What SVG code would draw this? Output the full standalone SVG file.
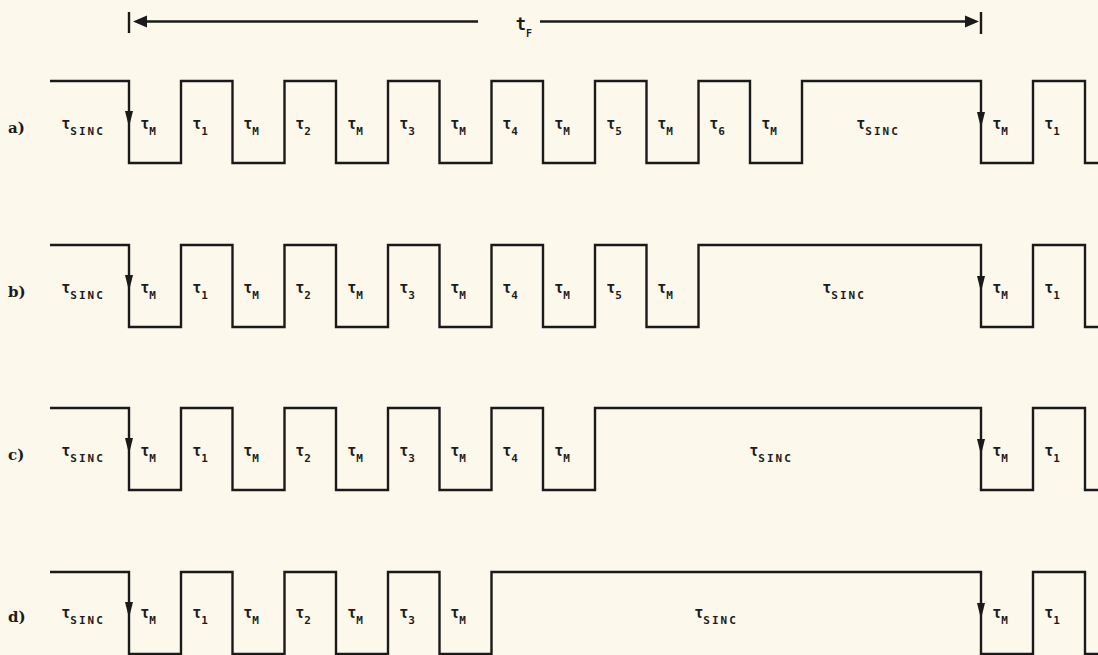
<svg xmlns="http://www.w3.org/2000/svg" width="1098" height="655" viewBox="0 0 1098 655">
<defs>
<style>
.sig{fill:none;stroke:#1a1a1a;stroke-width:2.4;stroke-linejoin:miter}
.ah{fill:#1a1a1a}
.lbl{font-family:"DejaVu Sans Mono",monospace;font-weight:bold;font-size:15px;fill:#1c1c1c;text-anchor:middle}
.sub{font-size:11px}
.subw{font-size:11px;letter-spacing:2px}
.row{font-family:"DejaVu Serif","Liberation Serif",serif;font-weight:bold;font-size:15px;fill:#1c1c1c}
.dim{stroke:#1a1a1a;stroke-width:2.4;fill:none}
</style>
<polygon id="dn" class="ah" points="-4,0 4,0 0,16"/>
</defs>
<rect x="0" y="0" width="1098" height="655" fill="#fcf9ec"/>

<g id="dimension">
<line class="dim" x1="129" y1="12" x2="129" y2="33"/>
<line class="dim" x1="140" y1="21.5" x2="478" y2="21.5"/>
<polygon class="ah" points="133,21.5 147,15.5 147,27.5"/>
<line class="dim" x1="540" y1="21.5" x2="968" y2="21.5"/>
<polygon class="ah" points="979,21.5 965,15.5 965,27.5"/>
<line class="dim" x1="981" y1="12" x2="981" y2="34"/>
<text class="lbl" x="524" y="30" style="font-size:17px">t<tspan dy="7" style="font-size:10px">F</tspan></text>
</g>

<g id="connectors">
<path id="wave-a" class="sig" transform="translate(0,81)" d="M50,0 H129 V82 H181 V0 H232.5 V82 H284.5 V0 H336 V82 H388 V0 H439.5 V82 H491.5 V0 H543 V82 H595 V0 H646.5 V82 H698.5 V0 H750 V82 H802 V0 H981 V82 H1033 V0 H1085 V82 H1100"/>
<path id="wave-b" class="sig" transform="translate(0,245)" d="M50,0 H129 V82 H181 V0 H232.5 V82 H284.5 V0 H336 V82 H388 V0 H439.5 V82 H491.5 V0 H543 V82 H595 V0 H646.5 V82 H698.5 V0 H981 V82 H1033 V0 H1085 V82 H1100"/>
<path id="wave-c" class="sig" transform="translate(0,408)" d="M50,0 H129 V82 H181 V0 H232.5 V82 H284.5 V0 H336 V82 H388 V0 H439.5 V82 H491.5 V0 H543 V82 H595 V0 H981 V82 H1033 V0 H1085 V82 H1100"/>
<path id="wave-d" class="sig" transform="translate(0,572)" d="M50,0 H129 V82 H181 V0 H232.5 V82 H284.5 V0 H336 V82 H388 V0 H439.5 V82 H491.5 V0 H981 V82 H1033 V0 H1085 V82 H1100"/>
<use href="#dn" x="129" y="111"/>
<use href="#dn" x="981" y="112"/>
<use href="#dn" x="129" y="275"/>
<use href="#dn" x="981" y="276"/>
<use href="#dn" x="129" y="438"/>
<use href="#dn" x="981" y="439"/>
<use href="#dn" x="129" y="602"/>
<use href="#dn" x="981" y="603"/>
</g>

<g id="row-a" transform="translate(0,81)">
<text class="row" x="8" y="52">a)</text>
<text class="lbl" x="83" y="48">τ<tspan class="subw" dy="6">SINC</tspan></text>
<text class="lbl" x="148" y="48">τ<tspan class="sub" dy="6">M</tspan></text>
<text class="lbl" x="200" y="48">τ<tspan class="sub" dy="6">1</tspan></text>
<text class="lbl" x="251" y="48">τ<tspan class="sub" dy="6">M</tspan></text>
<text class="lbl" x="303" y="48">τ<tspan class="sub" dy="6">2</tspan></text>
<text class="lbl" x="355" y="48">τ<tspan class="sub" dy="6">M</tspan></text>
<text class="lbl" x="407" y="48">τ<tspan class="sub" dy="6">3</tspan></text>
<text class="lbl" x="458" y="48">τ<tspan class="sub" dy="6">M</tspan></text>
<text class="lbl" x="510" y="48">τ<tspan class="sub" dy="6">4</tspan></text>
<text class="lbl" x="562" y="48">τ<tspan class="sub" dy="6">M</tspan></text>
<text class="lbl" x="614" y="48">τ<tspan class="sub" dy="6">5</tspan></text>
<text class="lbl" x="665" y="48">τ<tspan class="sub" dy="6">M</tspan></text>
<text class="lbl" x="717" y="48">τ<tspan class="sub" dy="6">6</tspan></text>
<text class="lbl" x="769" y="48">τ<tspan class="sub" dy="6">M</tspan></text>
<text class="lbl" x="878" y="48">τ<tspan class="subw" dy="6">SINC</tspan></text>
<text class="lbl" x="1000" y="48">τ<tspan class="sub" dy="6">M</tspan></text>
<text class="lbl" x="1052" y="48">τ<tspan class="sub" dy="6">1</tspan></text>
</g>

<g id="row-b" transform="translate(0,245)">
<text class="row" x="8" y="52">b)</text>
<text class="lbl" x="83" y="48">τ<tspan class="subw" dy="6">SINC</tspan></text>
<text class="lbl" x="148" y="48">τ<tspan class="sub" dy="6">M</tspan></text>
<text class="lbl" x="200" y="48">τ<tspan class="sub" dy="6">1</tspan></text>
<text class="lbl" x="251" y="48">τ<tspan class="sub" dy="6">M</tspan></text>
<text class="lbl" x="303" y="48">τ<tspan class="sub" dy="6">2</tspan></text>
<text class="lbl" x="355" y="48">τ<tspan class="sub" dy="6">M</tspan></text>
<text class="lbl" x="407" y="48">τ<tspan class="sub" dy="6">3</tspan></text>
<text class="lbl" x="458" y="48">τ<tspan class="sub" dy="6">M</tspan></text>
<text class="lbl" x="510" y="48">τ<tspan class="sub" dy="6">4</tspan></text>
<text class="lbl" x="562" y="48">τ<tspan class="sub" dy="6">M</tspan></text>
<text class="lbl" x="614" y="48">τ<tspan class="sub" dy="6">5</tspan></text>
<text class="lbl" x="665" y="48">τ<tspan class="sub" dy="6">M</tspan></text>
<text class="lbl" x="844" y="48">τ<tspan class="subw" dy="6">SINC</tspan></text>
<text class="lbl" x="1000" y="48">τ<tspan class="sub" dy="6">M</tspan></text>
<text class="lbl" x="1052" y="48">τ<tspan class="sub" dy="6">1</tspan></text>
</g>

<g id="row-c" transform="translate(0,408)">
<text class="row" x="8" y="52">c)</text>
<text class="lbl" x="83" y="48">τ<tspan class="subw" dy="6">SINC</tspan></text>
<text class="lbl" x="148" y="48">τ<tspan class="sub" dy="6">M</tspan></text>
<text class="lbl" x="200" y="48">τ<tspan class="sub" dy="6">1</tspan></text>
<text class="lbl" x="251" y="48">τ<tspan class="sub" dy="6">M</tspan></text>
<text class="lbl" x="303" y="48">τ<tspan class="sub" dy="6">2</tspan></text>
<text class="lbl" x="355" y="48">τ<tspan class="sub" dy="6">M</tspan></text>
<text class="lbl" x="407" y="48">τ<tspan class="sub" dy="6">3</tspan></text>
<text class="lbl" x="458" y="48">τ<tspan class="sub" dy="6">M</tspan></text>
<text class="lbl" x="510" y="48">τ<tspan class="sub" dy="6">4</tspan></text>
<text class="lbl" x="562" y="48">τ<tspan class="sub" dy="6">M</tspan></text>
<text class="lbl" x="771" y="48">τ<tspan class="subw" dy="6">SINC</tspan></text>
<text class="lbl" x="1000" y="48">τ<tspan class="sub" dy="6">M</tspan></text>
<text class="lbl" x="1052" y="48">τ<tspan class="sub" dy="6">1</tspan></text>
</g>

<g id="row-d" transform="translate(0,572)">
<text class="row" x="8" y="50">d)</text>
<text class="lbl" x="83" y="46">τ<tspan class="subw" dy="6">SINC</tspan></text>
<text class="lbl" x="148" y="46">τ<tspan class="sub" dy="6">M</tspan></text>
<text class="lbl" x="200" y="46">τ<tspan class="sub" dy="6">1</tspan></text>
<text class="lbl" x="251" y="46">τ<tspan class="sub" dy="6">M</tspan></text>
<text class="lbl" x="303" y="46">τ<tspan class="sub" dy="6">2</tspan></text>
<text class="lbl" x="355" y="46">τ<tspan class="sub" dy="6">M</tspan></text>
<text class="lbl" x="407" y="46">τ<tspan class="sub" dy="6">3</tspan></text>
<text class="lbl" x="458" y="46">τ<tspan class="sub" dy="6">M</tspan></text>
<text class="lbl" x="716" y="46">τ<tspan class="subw" dy="6">SINC</tspan></text>
<text class="lbl" x="1000" y="46">τ<tspan class="sub" dy="6">M</tspan></text>
<text class="lbl" x="1052" y="46">τ<tspan class="sub" dy="6">1</tspan></text>
</g>
</svg>
